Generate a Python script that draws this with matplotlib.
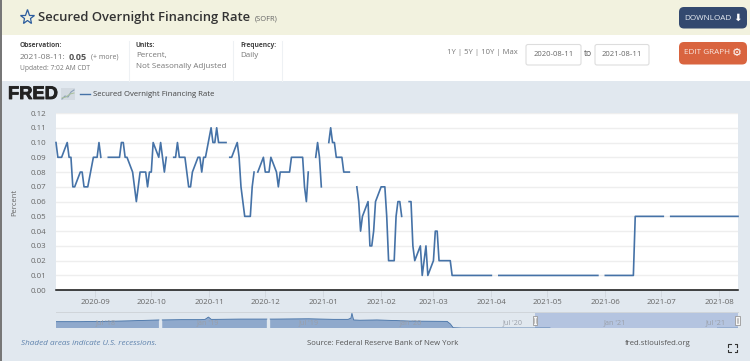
import matplotlib
matplotlib.use('Agg')
import matplotlib.pyplot as plt
import matplotlib.dates as mdates
import matplotlib.patheffects as pe
from matplotlib.patches import Rectangle, FancyBboxPatch
import numpy as np
import pandas as pd

plt.rcParams['font.family'] = ['Open Sans', 'DejaVu Sans']

# SOFR, one value per business day, None = holiday
aug_20 = [.10,.09,.09,.09,.10,.09,.09,.07,.07,.08,.08,.07,.07,.07,.09]
sep_20 = [.09,.09,.10,.09,None,.09,.09,.09,.09,.09,.10,.10,.09,.09,.08,.07,.06,.07,.08,.08,.07,.08]
oct_20 = [.08,.10,.09,.10,.09,.08,.09,None,.09,.09,.10,.09,.09,.08,.07,.07,.08,.09,.09,.08,.09,.09]
nov_20 = [.11,.10,.10,.11,.10,.10,.10,None,.09,.09,.10,.09,.07,.06,.05,.05,.07,.08,None,.08,.09]
dec_20 = [.08,.08,.08,.09,.08,.07,.08,.08,.08,.08,.09,.09,.09,.09,.09,.07,.06,.08,None,.09,.10,.09,.07]
jan_21 = [None,.10,.11,.10,.10,.09,.09,.08,.08,.08,.08,None,.07,.06,.04,.05,.06,.03,.03,.04,.06]
feb_21 = [.07,.07,.07,.05,.02,.02,.05,.06,.06,.05,None,.06,.06,.03,.02,.03,.01,.02,.03,.01]
mar_21 = [.02,.04,.04,.02,.02,.02,.02,.02,.01,.01,.01,.01,.01,.01,.01,.01,.01,.01,.01,.01,.01,.01,.01]
apr_21 = [.01,None,.01,.01,.01,.01,.01,.01,.01,.01,.01,.01,.01,.01,.01,.01,.01,.01,.01,.01,.01,.01]
may_21 = [.01,.01,.01,.01,.01,.01,.01,.01,.01,.01,.01,.01,.01,.01,.01,.01,.01,.01,.01,.01,None]
jun_21 = [.01,.01,.01,.01,.01,.01,.01,.01,.01,.01,.01,.01,.05,.05,.05,.05,.05,.05,.05,.05,.05,.05]
jul_21 = [.05,.05,None,.05,.05,.05,.05,.05,.05,.05,.05,.05,.05,.05,.05,.05,.05,.05,.05,.05,.05,.05]
aug_21 = [.05,.05,.05,.05,.05,.05,.05,.05]

sofr = aug_20+sep_20+oct_20+nov_20+dec_20+jan_21+feb_21+mar_21+apr_21+may_21+jun_21+jul_21+aug_21
sofr_dates = pd.bdate_range('2020-08-11', '2021-08-11')
y_ticks = [0.00,0.01,0.02,0.03,0.04,0.05,0.06,0.07,0.08,0.09,0.10,0.11,0.12]

# navigator overview, rough readings
nav_dates = ['2018-04-03','2018-05-15','2018-07-01','2018-08-15','2018-10-05','2018-10-08','2018-10-11',
             '2018-11-15','2018-12-20','2018-12-27','2019-01-02','2019-01-07','2019-01-15','2019-03-01',
             '2019-04-17','2019-04-20','2019-04-23','2019-05-01','2019-07-01','2019-08-15','2019-09-10',
             '2019-09-15','2019-09-17','2019-09-20','2019-10-01','2019-11-01','2020-01-01','2020-03-02',
             '2020-03-06','2020-03-12','2020-03-17','2020-04-01','2020-06-15','2020-09-07','2020-09-09',
             '2021-04-02','2021-04-04','2021-07-05','2021-08-11']
nav_vals = [2.3,2.3,2.4,2.6,2.9,None,2.9,3.0,3.0,3.1,3.9,3.1,3.1,3.2,3.2,None,3.2,3.2,3.3,3.1,3.1,3.5,5.2,
            2.9,2.8,2.9,2.5,2.4,2.4,1.5,0.2,0.1,0.1,0.1,None,0.05,None,0.05,0.05]
nav_labels = ["Jul '18","Jan '19","Jul '19","Jan '20","Jul '20","Jan '21","Jul '21"]
nav_label_dates = ['2018-07-01','2019-01-01','2019-07-01','2020-01-01','2020-07-01','2021-01-01','2021-07-01']

W, H = 750, 361
BLUE = '#4572a7'
fig = plt.figure(figsize=(W/100, H/100), dpi=100)


def px_axes(x0, y0, x1, y1):
    # axes from pixel box, y counted from the top
    return fig.add_axes([x0/W, 1-y1/H, (x1-x0)/W, (y1-y0)/H])


bg = fig.add_axes([0, 0, 1, 1])
bg.set_xlim(0, W)
bg.set_ylim(H, 0)
bg.axis('off')
bg.add_patch(Rectangle((0, 0), W, 35, color='#f2f2df', lw=0))
bg.add_patch(Rectangle((0, 35), W, 46, color='white', lw=0))
bg.add_patch(Rectangle((0, 81), W, 280, color='#e1e8ef', lw=0))
bg.add_patch(Rectangle((0, 0), 1.5, H, color='#777777', lw=0))
for x in [129, 233, 282]:
    bg.plot([x, x], [41, 81], color='#eef1f4', lw=0.8)

bg.plot([26.5], [17], marker='*', ms=11, mfc='none', mec='#2b5c9e', mew=0.9)
bg.text(38, 17, 'Secured Overnight Financing Rate', fontsize=9.4, fontweight=600, color='#333333', va='center')
bg.text(255, 18.5, '(SOFR)', fontsize=5.4, color='#666666', va='center')

bg.text(20, 45.5, 'Observation:', fontsize=4.8, fontweight='bold', color='#444444', va='center')
bg.text(20, 57.5, '2021-08-11:', fontsize=6, color='#777777', va='center')
bg.text(68.5, 57.5, '0.05', fontsize=6.6, fontweight='bold', color='#555555', va='center')
bg.text(91, 57.5, '(+ more)', fontsize=5, color='#777777', va='center')
bg.text(20, 68.5, 'Updated: 7:02 AM CDT', fontsize=4.8, color='#777777', va='center')
bg.text(136, 45.5, 'Units:', fontsize=4.8, fontweight='bold', color='#444444', va='center')
bg.text(136, 55.5, 'Percent,', fontsize=5.75, color='#777777', va='center')
bg.text(136, 66.5, 'Not Seasonally Adjusted', fontsize=5.75, color='#777777', va='center')
bg.text(240, 45.5, 'Frequency:', fontsize=4.8, fontweight='bold', color='#444444', va='center')
bg.text(240, 55.5, 'Daily', fontsize=5.75, color='#777777', va='center')

bg.text(447, 52, '1Y | 5Y | 10Y | Max', fontsize=5.5, color='#777777', va='center')
for x0, x1, s in [(526, 581, '2020-08-11'), (595, 649, '2021-08-11')]:
    bg.add_patch(FancyBboxPatch((x0, 44.5), x1-x0, 20.5, boxstyle='round,pad=0,rounding_size=2',
                                fc='white', ec='#dddddd', lw=0.8))
    bg.text((x0+x1)/2, 55, s, fontsize=5.5, color='#666666', ha='center', va='center')
bg.text(588, 54, 'to', fontsize=6.2, color='#666666', ha='center', va='center')

bg.add_patch(FancyBboxPatch((679, 7), 68, 21.5, boxstyle='round,pad=0,rounding_size=5', fc='#33496f', ec='none'))
bg.text(684.5, 18, 'DOWNLOAD', fontsize=5.9, color='#e8edf4', va='center')
bg.text(737.5, 17.5, '\u2b07', fontsize=7.5, color='white', ha='center', va='center', family='DejaVu Sans')
bg.add_patch(FancyBboxPatch((679, 42), 68, 22.5, boxstyle='round,pad=0,rounding_size=5', fc='#d9643f', ec='none'))
bg.text(684.5, 53, 'EDIT GRAPH', fontsize=5.9, color='#f8e6df', va='center')
bg.text(736.5, 52.5, '\u2699', fontsize=8, color='white', ha='center', va='center', family='DejaVu Sans')

# FRED logo and legend
bg.text(8, 94.5, 'FRED', fontsize=13.2, fontweight='bold', color='#222222', va='center',
        family='Liberation Sans', path_effects=[pe.withStroke(linewidth=0.6, foreground='#222222')])
bg.add_patch(Rectangle((61, 88), 14, 12, color='#d3dae1', lw=0))
bg.plot([62, 65, 68, 71, 74], [99, 96, 97, 92, 90], color='#8aa0b8', lw=0.8)
bg.plot([62, 66, 70, 74], [98, 97, 94, 93], color='#a8c09a', lw=0.7)
bg.plot([80, 90], [94, 94], color=BLUE, lw=1)
bg.text(93, 94.5, 'Secured Overnight Financing Rate', fontsize=5.6, color='#444444', va='center')

bg.text(15, 202, 'Percent', fontsize=5.5, color='#666666', rotation=90, ha='center', va='center')

# main chart
ax = px_axes(56, 113, 738, 290.2)
ax.set_facecolor('white')
ax.plot(sofr_dates, np.array(sofr, dtype=float), color=BLUE, lw=1.2, clip_on=False, solid_joinstyle='round')
ax.set_xlim(pd.Timestamp('2020-08-11'), pd.Timestamp('2021-08-11'))
ax.set_ylim(0, 0.12)
ax.set_yticks(y_ticks)
ax.set_yticklabels(['%.2f' % v for v in y_ticks])
ax.grid(axis='y', color='#eeeeee', lw=1)
ax.set_axisbelow(True)
ax.xaxis.set_major_locator(mdates.MonthLocator())
ax.xaxis.set_major_formatter(mdates.DateFormatter('%Y-%m'))
ax.tick_params(axis='y', length=0, pad=7, labelsize=5.7, labelcolor='#666666')
ax.tick_params(axis='x', length=5, width=0.6, color='#d0d6dc', pad=1.5, labelsize=5.7, labelcolor='#666666')
for s in ['top', 'left', 'right']:
    ax.spines[s].set_visible(False)
ax.spines['bottom'].set_color('#111111')
ax.spines['bottom'].set_linewidth(1.1)

# navigator
nav = px_axes(56, 313, 738, 328.3)
nav.patch.set_alpha(0)
nx = pd.to_datetime(nav_dates)
ny = np.array(nav_vals, dtype=float)
nav.fill_between(nx, 0, ny, color='#8fa9cc', lw=0)
nav.plot(nx, ny, color=BLUE, lw=0.6)
nav.axvspan(pd.Timestamp('2020-08-11'), pd.Timestamp('2021-08-11'), color='#a9bcdd', alpha=0.8, lw=0)
nav.set_xlim(pd.Timestamp('2018-04-03'), pd.Timestamp('2021-08-11'))
nav.set_ylim(0, 5.3)
nav.set_xticks([])
nav.set_yticks([])
for s in nav.spines.values():
    s.set_visible(False)
for d, s in zip(nav_label_dates, nav_labels):
    nav.text(pd.Timestamp(d), 1.9, s, fontsize=5.2, color='#9a9fa8', ha='center', va='center')
bg.plot([56, 738], [312.3, 312.3], color='#d0d5da', lw=0.7)
hdl = fig.add_axes([0, 0, 1, 1])
hdl.set_xlim(0, W)
hdl.set_ylim(H, 0)
hdl.axis('off')
for x in [535, 737.5]:
    hdl.add_patch(Rectangle((x-2.2, 316), 4.4, 9, fc='#f5f5f5', ec='#999999', lw=0.6))
    hdl.plot([x-0.6, x-0.6], [318, 323], color='#999999', lw=0.4)
    hdl.plot([x+0.6, x+0.6], [318, 323], color='#999999', lw=0.4)

# footer
bg.text(21, 343.5, 'Shaded areas indicate U.S. recessions.', fontsize=5.85, style='italic', color='#5f83ad', va='center')
bg.text(307, 343.5, 'Source: Federal Reserve Bank of New York', fontsize=5.55, color='#555555', va='center')
bg.text(625, 343.5, 'fred.stlouisfed.org', fontsize=5.55, color='#555555', va='center')
for cx, cy, dx, dy in [(728, 344, 1, 1), (737, 344, -1, 1), (728, 352, 1, -1), (737, 352, -1, -1)]:
    bg.plot([cx+2.5*dx, cx, cx], [cy, cy, cy+2.5*dy], color='#333333', lw=0.8)

fig.savefig('out.png', dpi=100)
